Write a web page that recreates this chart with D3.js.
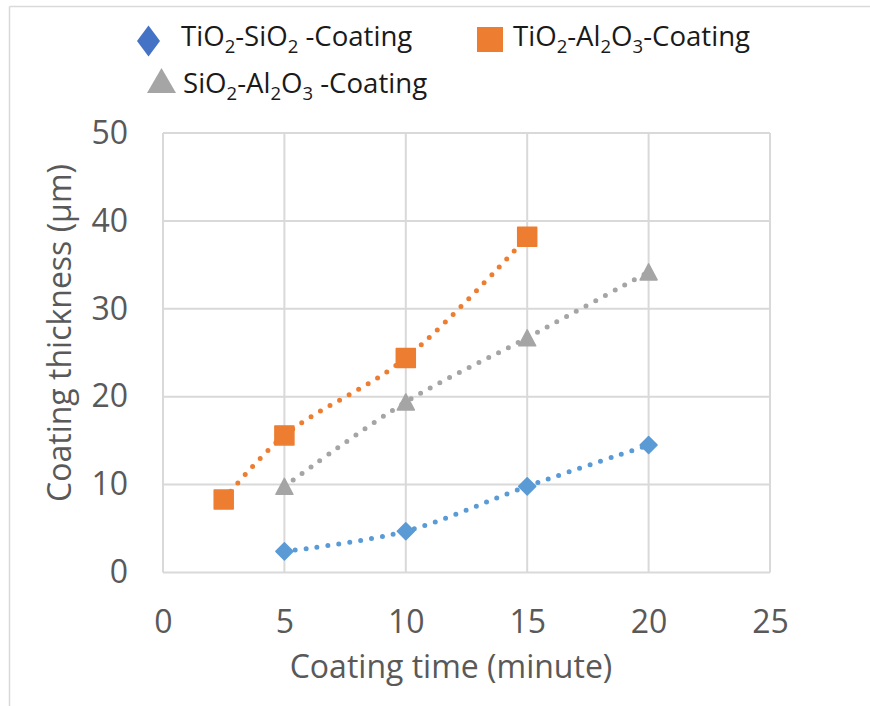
<!DOCTYPE html>
<html>
<head>
<meta charset="utf-8">
<script src="https://cdn.jsdelivr.net/npm/d3@7"></script>
<style>
  html, body { margin: 0; padding: 0; background: #fff; }
  svg { display: block; }
  text { font-family: "Open Sans", "Noto Sans", sans-serif; }
</style>
</head>
<body>
<svg id="chart" width="870" height="706"></svg>
<script>
// ---- data ----
const xTicks = [0, 5, 10, 15, 20, 25];
const yTicks = [0, 10, 20, 30, 40, 50];

const tiSiTime = [5, 10, 15, 20];
const tiSiThickness = [2.4, 4.7, 9.8, 14.5];

const tiAlTime = [2.5, 5, 10, 15];
const tiAlThickness = [8.3, 15.6, 24.4, 38.2];

const siAlTime = [5, 10, 15, 20];
const siAlThickness = [9.8, 19.4, 26.7, 34.2];

const seriesNames = [
  [["TiO", ""], ["2", "sub"], ["-SiO", ""], ["2", "sub"], [" -Coating", ""]],
  [["TiO", ""], ["2", "sub"], ["-Al", ""], ["2", "sub"], ["O", ""], ["3", "sub"], ["-Coating", ""]],
  [["SiO", ""], ["2", "sub"], ["-Al", ""], ["2", "sub"], ["O", ""], ["3", "sub"], [" -Coating", ""]]
];
const xTitle = "Coating time (minute)";
const yTitle = "Coating thickness (µm)";

// ---- layout ----
const svg = d3.select("#chart");
const x = d3.scaleLinear().domain([0, 25]).range([163, 770]);
const y = d3.scaleLinear().domain([0, 50]).range([572.5, 133]);
const gridColor = "#d9d9d9";
const labelColor = "#595959";

// outer chart border
svg.append("line").attr("x1", 9.5).attr("x2", 9.5).attr("y1", 6.5).attr("y2", 706)
  .attr("stroke", gridColor).attr("stroke-width", 1.5);
svg.append("line").attr("x1", 9.5).attr("x2", 870).attr("y1", 6.5).attr("y2", 6.5)
  .attr("stroke", gridColor).attr("stroke-width", 1.5);

// gridlines
const grid = svg.append("g");
grid.selectAll(".gy").data(yTicks).join("line")
  .attr("x1", x(0)).attr("x2", x(25))
  .attr("y1", d => y(d)).attr("y2", d => y(d))
  .attr("stroke", gridColor).attr("stroke-width", 2);
grid.selectAll(".gx").data(xTicks).join("line")
  .attr("x1", d => x(d)).attr("x2", d => x(d))
  .attr("y1", y(0)).attr("y2", y(50))
  .attr("stroke", gridColor).attr("stroke-width", 2);

// axes
const xAxis = svg.append("g").attr("transform", `translate(0,${y(0)})`)
  .call(d3.axisBottom(x).tickValues(xTicks).tickSize(0).tickPadding(38));
const yAxis = svg.append("g").attr("transform", `translate(${x(0)},0)`)
  .call(d3.axisLeft(y).tickValues(yTicks).tickSize(0).tickPadding(35));
[xAxis, yAxis].forEach(a => {
  a.select(".domain").remove();
  a.selectAll("text").attr("font-size", 32).attr("fill", labelColor)
    .attr("font-family", "'Open Sans', sans-serif");
});

// axis titles
svg.append("text").attr("x", 451).attr("y", 678).attr("text-anchor", "middle")
  .attr("font-size", 32).attr("fill", labelColor).text(xTitle);
svg.append("text").attr("transform", "translate(71,333) rotate(-90)")
  .attr("text-anchor", "middle").attr("font-size", 32).attr("fill", labelColor).text(yTitle);

// series
const series = [
  { xs: tiSiTime, ys: tiSiThickness, color: "#5B9BD5", marker: "diamond" },
  { xs: tiAlTime, ys: tiAlThickness, color: "#ED7D31", marker: "square" },
  { xs: siAlTime, ys: siAlThickness, color: "#A5A5A5", marker: "triangle" }
];
const line = d3.line().x(d => x(d[0])).y(d => y(d[1])).curve(d3.curveCatmullRom.alpha(0.5));

function markerPath(type, cx, cy, w, h) {
  if (type === "diamond")
    return `M${cx},${cy - h / 2}L${cx + w / 2},${cy}L${cx},${cy + h / 2}L${cx - w / 2},${cy}Z`;
  if (type === "square")
    return `M${cx - w / 2},${cy - h / 2}h${w}v${h}h${-w}Z`;
  return `M${cx},${cy - h / 2}L${cx + w / 2},${cy + h / 2}L${cx - w / 2},${cy + h / 2}Z`;
}

series.forEach(s => {
  const pts = s.xs.map((v, i) => [v, s.ys[i]]);
  svg.append("path").datum(pts).attr("d", line)
    .attr("fill", "none").attr("stroke", s.color).attr("stroke-width", 5)
    .attr("stroke-linecap", "round").attr("stroke-dasharray", "0 11");
  const size = s.marker === "square" ? [19, 19] : s.marker === "diamond" ? [17, 17] : [17, 16];
  svg.append("g").selectAll("path").data(pts).join("path")
    .attr("d", d => markerPath(s.marker, x(d[0]), y(d[1]), size[0], size[1]))
    .attr("fill", s.color).attr("stroke", s.color).attr("stroke-width", 1.5)
    .attr("stroke-linejoin", "round");
});

// legend
const legendColors = ["#4472C4", "#ED7D31", "#A5A5A5"];
const legendItems = [
  { mx: 148.5, my: 41, mw: 23, mh: 31, tx: 181, ty: 45.5, marker: "diamond" },
  { mx: 490, my: 39.5, mw: 26, mh: 25, tx: 513, ty: 45.5, marker: "square" },
  { mx: 161.5, my: 80.5, mw: 29, mh: 25, tx: 183, ty: 93, marker: "triangle" }
];
legendItems.forEach((it, i) => {
  svg.append("path").attr("d", markerPath(it.marker, it.mx, it.my, it.mw, it.mh))
    .attr("fill", legendColors[i]);
  const t = svg.append("text").attr("x", it.tx).attr("y", it.ty)
    .attr("font-size", 27.6).attr("fill", "#1a1a1a");
  let shifted = false;
  seriesNames[i].forEach(([str, kind]) => {
    const ts = t.append("tspan").text(str);
    if (kind === "sub") {
      ts.attr("font-size", 18.5).attr("dy", 7);
      shifted = true;
    } else if (shifted) {
      ts.attr("dy", -7);
      shifted = false;
    }
  });
});
</script>
</body>
</html>
